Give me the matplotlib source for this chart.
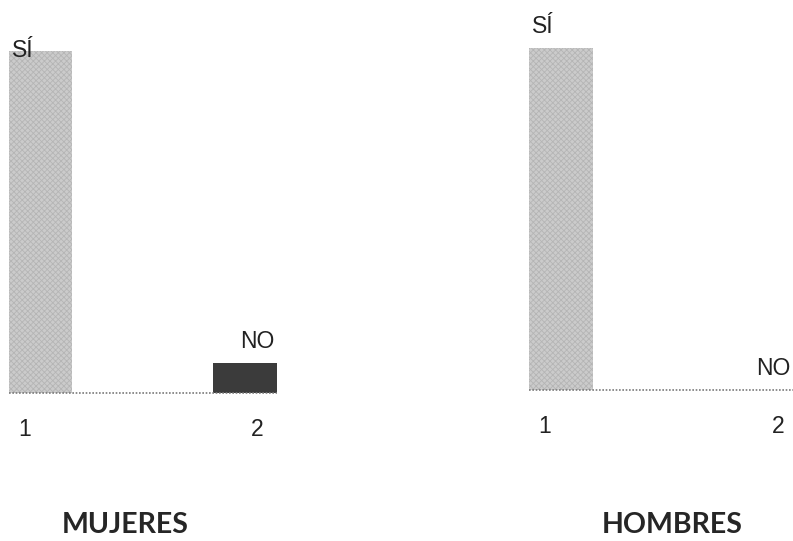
import numpy as np
import matplotlib
matplotlib.use("Agg")
import matplotlib.pyplot as plt

# data (percent of answers)
categories = [1, 2]
answer_labels = ["SÍ", "NO"]
mujeres = [92, 8]
hombres = [100, 0]
groups = ["MUJERES", "HOMBRES"]

plt.rcParams['hatch.linewidth'] = 0.6
W, H = 793, 541
fig = plt.figure(figsize=(W / 100, H / 100), dpi=100)
fig.patch.set_facecolor("white")

light = "#cbcbcb"
dark = "#3b3b3b"
width = 0.31
font = "Liberation Sans"

def panel(x0_px, x1_px, base_px, xlim, ylim, values, title, title_x, si_offset, no_dx):
    ax = fig.add_axes([x0_px / W, (H - base_px) / H, (x1_px - x0_px) / W, base_px / H])
    ax.set_xlim(*xlim)
    ax.set_ylim(*ylim)
    bars = ax.bar(categories, values, width=width, color=[light, dark],
                  linewidth=0, clip_on=False)
    bars[0].set_hatch("xxxxxx")
    bars[0].set_edgecolor("#b5b5b5")
    bars[0].set_linewidth(0)
    # dotted base line
    ax.plot([categories[0] - width / 2, categories[1] + width / 2], [0, 0],
            ls=(0, (1, 1)), color="#7a7a7a", lw=1.2, clip_on=False)
    # category labels under the base line
    px_per_unit = base_px / (ylim[1] - ylim[0])
    for c, dx in zip(categories, [-0.08, 0.06]):
        ax.text(c + dx, -43 / px_per_unit, str(c), ha="center", va="baseline",
                fontsize=16.5, family=font, color="#222222")
    # value labels
    ax.annotate(answer_labels[0], (categories[0] - width / 2, values[0]),
                xytext=(3, si_offset), textcoords="offset pixels",
                ha="left", va="baseline", fontsize=16.5, family=font,
                color="#222222", annotation_clip=False)
    ax.annotate(answer_labels[1], (categories[1] + width / 2, values[1]),
                xytext=(no_dx, 15), textcoords="offset pixels",
                ha="right", va="baseline", fontsize=16.5, family=font,
                color="#222222", annotation_clip=False)
    ax.axis("off")
    fig.text(title_x / W, (H - 533) / H, title, ha="center", va="baseline",
             fontsize=20.5, family="Lato", fontweight="bold", color="#262626")
    return ax

panel(0, 300, 393, (1 - 40.5 / 204.5, 1 + 259.5 / 204.5), (0, 393 / 3.717),
      mujeres, groups[0], 125, -6, -2)
panel(500, 793, 390, (1 - 61 / 204.5, 1 + 232 / 204.5), (0, 390 / 3.42),
      hombres, groups[1], 672, 15, -7)

fig.savefig("out.png", dpi=100, facecolor="white")
